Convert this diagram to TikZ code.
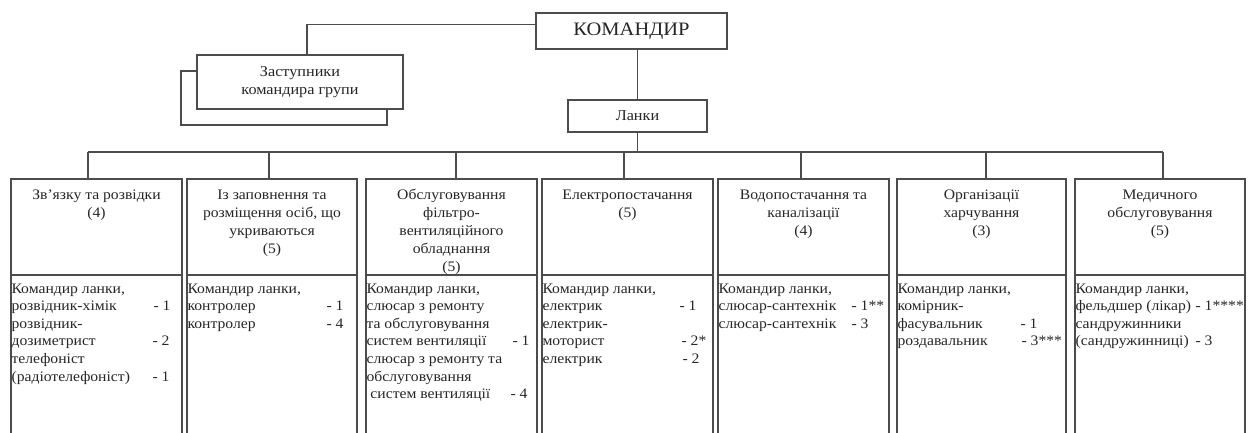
\documentclass[tikz,border=0pt]{standalone}
\usepackage{fontspec}
\setmainfont{Liberation Serif}[FakeStretch=1.08]
\newcommand{\ktr}[3]{\makebox[#1][l]{#2}#3}
\begin{document}
\begin{tikzpicture}[x=1pt,y=-1pt,
  ln/.style={draw=black!70, line width=1.3pt},
  frame/.style={ln, fill=white, rectangle, inner sep=0pt},
  hdrbox/.style={frame, minimum height=96pt},
  bodbox/.style={frame, minimum height=165pt},
  hdrtxt/.style={font=\fontsize{14.5}{18}\selectfont, text=black!85, align=center, inner sep=0pt, anchor=north},
  bodtxt/.style={font=\fontsize{14.5}{17.6}\selectfont, text=black!85, align=left, inner sep=0pt, anchor=north west},
  toptxt/.style={font=\fontsize{15}{17.5}\selectfont, text=black!85, align=center}
]
\useasboundingbox (0,0) rectangle (1250,433);
\clip (0,0) rectangle (1250,433);

% top level
\node[frame, minimum width=191pt, minimum height=36pt,
      font=\fontsize{19}{22}\selectfont, text=black!85] (kom) at (631.5,31) {КОМАНДИР};
\node[frame, minimum width=206pt, minimum height=54pt] (depb) at (284,98) {};
\node[frame, minimum width=206pt, minimum height=54pt, toptxt] (dep) at (300,82) {Заступники\\командира групи};
\node[frame, minimum width=139pt, minimum height=32pt, toptxt] (lanky) at (637.5,116) {Ланки};

\path (kom.north west) ++(0,12) coordinate (kl);
\draw[ln] (kl) -- (kl -| 307,0) -- (307,0 |- dep.north);
\draw[ln] (kom.south -| lanky.north) -- (lanky.north);

% bus
\coordinate (b1) at (88,152);
\coordinate (b2) at (269,152);
\coordinate (b3) at (456,152);
\coordinate (b4) at (624,152);
\coordinate (b5) at (801,152);
\coordinate (b6) at (986,152);
\coordinate (b7) at (1163,152);
\draw[ln] (lanky.south) -- (lanky.south |- b1);
\draw[ln] (b1) -- (b7);

% boxes
\foreach \i/\cx/\w in {1/96.5/171, 2/272/170, 3/451.5/171, 4/627.5/171, 5/803.5/171, 6/981.5/169, 7/1160/170}{
  \node[hdrbox, minimum width=\w pt] (h\i) at (\cx,227) {};
  \node[bodbox, minimum width=\w pt] (d\i) at (\cx,357.5) {};
  \draw[ln] (b\i) -- (b\i |- h\i.north);
}

% header texts
\node[hdrtxt] (t1) at ([yshift=-11pt]h1.north) {Зв'язку та розвідки\\(4)};
\node[hdrtxt] (t2) at ([yshift=-11pt]h2.north) {Із заповнення та\\розміщення  осіб, що\\укриваються\\(5)};
\node[hdrtxt] (t3) at ([yshift=-11pt]h3.north) {Обслуговування\\фільтро-\\вентиляційного\\обладнання\\(5)};
\node[hdrtxt] (t4) at ([yshift=-11pt]h4.north) {Електропостачання\\(5)};
\node[hdrtxt] (t5) at ([yshift=-11pt]h5.north) {Водопостачання та\\каналізації\\(4)};
\node[hdrtxt] (t6) at ([yshift=-11pt]h6.north) {Організації\\харчування\\(3)};
\node[hdrtxt] (t7) at ([yshift=-11pt]h7.north) {Медичного\\обслуговування\\(5)};

% body texts
\node[bodtxt] (s1) at ([xshift=1pt,yshift=-9pt]d1.north west) {Командир ланки,\\\ktr{142pt}{розвідник-хімік}{- 1}\\розвідник-\\\ktr{141pt}{дозиметрист}{- 2}\\телефоніст\\\ktr{141pt}{(радіотелефоніст)}{- 1}};
\node[bodtxt] (s2) at ([xshift=1pt,yshift=-9pt]d2.north west) {Командир ланки,\\\ktr{139pt}{контролер}{- 1}\\\ktr{139pt}{контролер}{- 4}};
\node[bodtxt] (s3) at ([xshift=1pt,yshift=-9pt]d3.north west) {Командир ланки,\\слюсар з ремонту\\та обслуговування\\\ktr{146pt}{систем вентиляції}{- 1}\\слюсар з ремонту та\\обслуговування\\\ktr{144pt}{\ систем вентиляції}{- 4}};
\node[bodtxt] (s4) at ([xshift=1pt,yshift=-9pt]d4.north west) {Командир ланки,\\\ktr{137pt}{електрик}{- 1}\\електрик-\\\ktr{139pt}{моторист}{- 2*}\\\ktr{140pt}{електрик}{- 2}};
\node[bodtxt] (s5) at ([xshift=1pt,yshift=-9pt]d5.north west) {Командир ланки,\\\ktr{133pt}{слюсар-сантехнік}{- 1**}\\\ktr{133pt}{слюсар-сантехнік}{- 3}};
\node[bodtxt] (s6) at ([xshift=1pt,yshift=-9pt]d6.north west) {Командир ланки,\\комірник-\\\ktr{123pt}{фасувальник}{- 1}\\\ktr{124pt}{роздавальник}{- 3***}};
\node[bodtxt] (s7) at ([xshift=1pt,yshift=-9pt]d7.north west) {Командир ланки,\\\ktr{120pt}{фельдшер (лікар)}{- 1****}\\сандружинники\\\ktr{120pt}{(сандружинниці)}{- 3}};
\end{tikzpicture}
\end{document}
